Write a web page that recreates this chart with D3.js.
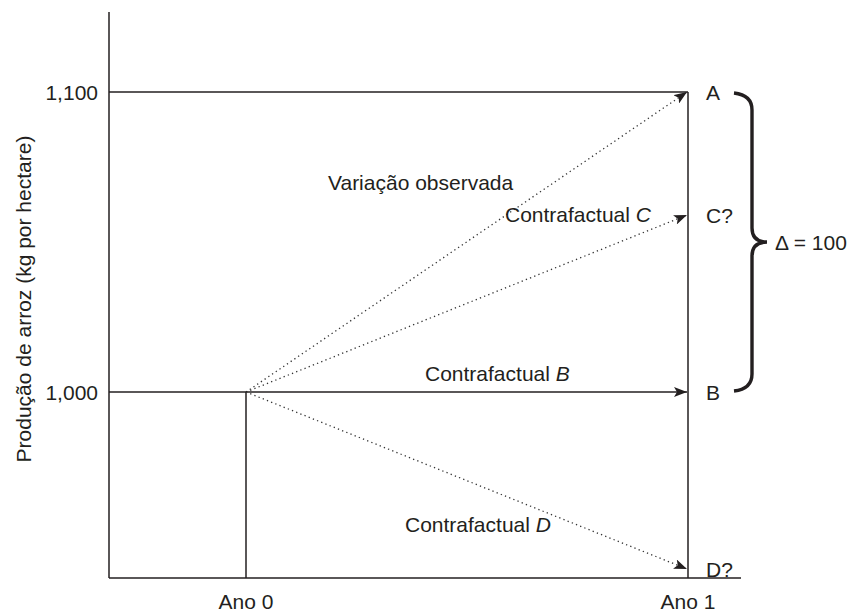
<!DOCTYPE html>
<html>
<head>
<meta charset="utf-8">
<script src="https://cdn.jsdelivr.net/npm/d3@7"></script>
<style>
  html, body { margin: 0; padding: 0; background: #fff; }
  svg text { font-family: "Liberation Sans", Arial, sans-serif; fill: #231f20; }
</style>
</head>
<body>
<svg id="chart" width="850" height="612"></svg>
<script>
// ---- data ----
const periods = ["Ano 0", "Ano 1"];
const yTicks = [1000, 1100];
const baseline = 1000;                       // value at Ano 0
const pathNames = ["A", "C?", "B", "D?"];
const pathEnds = [1100, 1059, 1000, 941];    // values at Ano 1
const pathDotted = [true, true, false, true];
const pathLabels = [
  {text: "Variação observada", italic: ""},
  {text: "Contrafactual ", italic: "C"},
  {text: "Contrafactual ", italic: "B"},
  {text: "Contrafactual ", italic: "D"}
];
const deltaLabel = "Δ = 100";
const yTitle = "Produção de arroz (kg por hectare)";

// ---- layout ----
const svg = d3.select("#chart");
const axisLeft = 109, axisRight = 741, axisBottom = 578, axisTop = 12;
const fs = 21;
const x = d3.scalePoint().domain(periods).range([246, 688]);
const y = d3.scaleLinear().domain([938, 1126.67]).range([axisBottom, axisTop]);
const ink = "#231f20";

// arrow marker
svg.append("defs").append("marker")
  .attr("id", "arrow").attr("viewBox", "0 0 13 10")
  .attr("refX", 13).attr("refY", 5)
  .attr("markerWidth", 13).attr("markerHeight", 10)
  .attr("markerUnits", "userSpaceOnUse")
  .attr("orient", "auto")
  .append("path").attr("d", "M0,0 L13,5 L0,10 L3,5 Z").attr("fill", ink);

// axes
svg.append("line").attr("x1", axisLeft).attr("x2", axisLeft)
  .attr("y1", axisTop).attr("y2", axisBottom).attr("stroke", ink).attr("stroke-width", 1.5);
svg.append("line").attr("x1", axisLeft).attr("x2", axisRight)
  .attr("y1", axisBottom).attr("y2", axisBottom).attr("stroke", ink).attr("stroke-width", 1.5);

// y tick labels
svg.selectAll(".ytick").data(yTicks).enter().append("text")
  .attr("x", axisLeft - 11).attr("y", d => y(d) + 8)
  .attr("text-anchor", "end").attr("font-size", fs)
  .text(d => d3.format(",")(d));

// x labels
svg.selectAll(".xlab").data(periods).enter().append("text")
  .attr("x", d => x(d)).attr("y", 609)
  .attr("text-anchor", "middle").attr("font-size", fs)
  .text(d => d);

// y title
svg.append("text")
  .attr("transform", `translate(31,${299}) rotate(-90)`)
  .attr("text-anchor", "middle").attr("font-size", fs)
  .text(yTitle);

// reference lines
const x0 = x(periods[0]), x1 = x(periods[1]);
svg.append("line").attr("x1", axisLeft).attr("x2", x1)
  .attr("y1", y(yTicks[1])).attr("y2", y(yTicks[1])).attr("stroke", ink).attr("stroke-width", 1.5);
svg.append("line").attr("x1", axisLeft).attr("x2", x0)
  .attr("y1", y(baseline)).attr("y2", y(baseline)).attr("stroke", ink).attr("stroke-width", 1.5);
svg.append("line").attr("x1", x0).attr("x2", x0)
  .attr("y1", y(baseline)).attr("y2", axisBottom).attr("stroke", ink).attr("stroke-width", 1.5);
svg.append("line").attr("x1", x1).attr("x2", x1)
  .attr("y1", y(yTicks[1])).attr("y2", axisBottom).attr("stroke", ink).attr("stroke-width", 1.5);

// paths
pathEnds.forEach((v, i) => {
  svg.append("line")
    .attr("x1", x0).attr("y1", y(baseline))
    .attr("x2", x1 - 1).attr("y2", y(v))
    .attr("stroke", pathDotted[i] ? "#333" : ink)
    .attr("stroke-width", pathDotted[i] ? 1.3 : 1.5)
    .attr("stroke-dasharray", pathDotted[i] ? "1.3,3.2" : null)
    .attr("marker-end", "url(#arrow)");
  svg.append("text")
    .attr("x", x1 + 18).attr("y", y(v) + 8)
    .attr("text-anchor", "start").attr("font-size", fs)
    .text(pathNames[i]);
});

// path labels
const labelPos = [[328, 190], [505, 222], [425, 381], [405, 532]];
pathLabels.forEach((l, i) => {
  const t = svg.append("text")
    .attr("x", labelPos[i][0]).attr("y", labelPos[i][1])
    .attr("font-size", fs);
  t.append("tspan").text(l.text);
  if (l.italic) t.append("tspan").attr("font-style", "italic").text(l.italic);
});

// brace
const yA = y(pathEnds[0]), yB = y(baseline), yM = (yA + yB) / 2;
const bx = 752, bx0 = 734, tip = 767, r = 18;
const brace = d3.path();
brace.moveTo(bx0, yA + 1);
brace.quadraticCurveTo(bx, yA + 3, bx, yA + r);
brace.lineTo(bx, yM - 14);
brace.quadraticCurveTo(bx, yM, tip, yM);
brace.quadraticCurveTo(bx, yM, bx, yM + 14);
brace.lineTo(bx, yB - r);
brace.quadraticCurveTo(bx, yB - 3, bx0, yB - 1);
svg.append("path").attr("d", brace.toString())
  .attr("fill", "none").attr("stroke", ink).attr("stroke-width", 3.4).attr("stroke-linecap", "butt");

svg.append("text").attr("x", tip + 8).attr("y", yM + 8)
  .attr("font-size", fs).text(deltaLabel);
</script>
</body>
</html>
